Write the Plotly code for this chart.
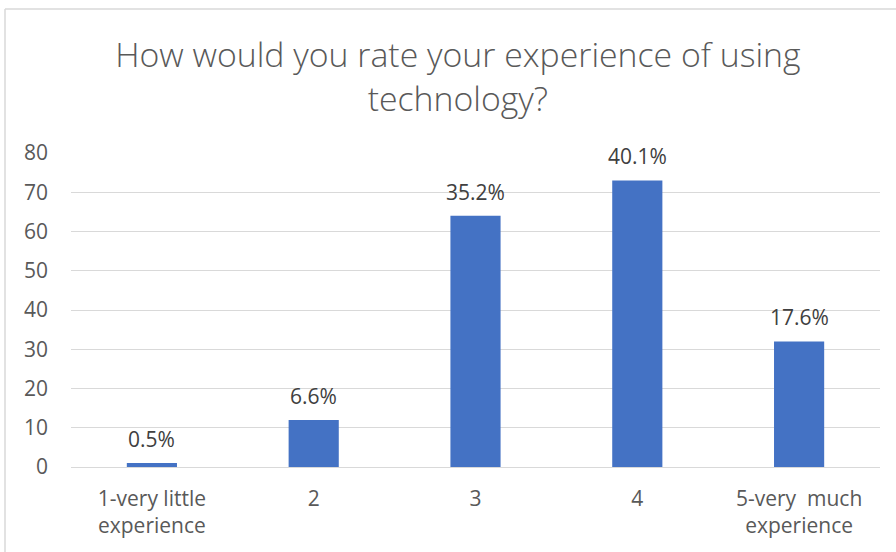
import plotly.graph_objects as go

categories = ["1-very little<br>experience", "2", "3", "4", "5-very  much<br>experience"]
counts = [1, 12, 64, 73, 32]
pct_labels = ["0.5%", "6.6%", "35.2%", "40.1%", "17.6%"]
y_ticks = [0, 10, 20, 30, 40, 50, 60, 70, 80]

W, H = 896, 552
L, R, T, B = 71, 16, 153, 85
pw, ph = W - L - R, H - T - B
FONT = "Open Sans, Lato, sans-serif"
FS = 21

fig = go.Figure(go.Bar(
    x=list(range(len(categories))), y=counts,
    marker=dict(color="#4472C4", line=dict(width=0)), width=0.31,
    hoverinfo="skip",
))

for i, (v, t) in enumerate(zip(counts, pct_labels)):
    fig.add_annotation(x=i, y=v, text=t, showarrow=False, yanchor="bottom", yshift=8,
                       font=dict(family=FONT, size=FS, color="#404040"))

def px2x(p):
    return (p - L) / pw

def py2y(p):
    return (H - B - p) / ph

# chart frame (top and left edges visible)
fig.add_shape(type="line", xref="paper", yref="paper",
              x0=px2x(5), x1=px2x(W + 5), y0=py2y(9), y1=py2y(9),
              line=dict(color="#D9D9D9", width=1.5))
fig.add_shape(type="line", xref="paper", yref="paper",
              x0=px2x(5), x1=px2x(5), y0=py2y(9), y1=py2y(H + 5),
              line=dict(color="#D9D9D9", width=1.5))

fig.update_layout(
    width=W, height=H, margin=dict(l=L, r=R, t=T, b=B, autoexpand=False),
    paper_bgcolor="white", plot_bgcolor="white",
    font=dict(family=FONT, color="#595959"),
    title=dict(text="How would you rate your experience of using<br>technology?",
               x=0.511, xanchor="center", y=0.878, yanchor="middle",
               font=dict(family=FONT, size=33.8, color="#595959", weight=300)),
    showlegend=False, bargap=0.69,
    xaxis=dict(showgrid=False, showline=False, ticks="", automargin=False,
               tickvals=list(range(len(categories))), ticktext=categories,
               range=[-0.5, len(categories) - 0.5],
               tickfont=dict(size=FS, color="#595959"), ticklabelstandoff=17),
    yaxis=dict(range=[0, 80], tickvals=y_ticks, showgrid=True, gridcolor="#D9D9D9", gridwidth=1,
               zeroline=True, zerolinecolor="#D9D9D9", zerolinewidth=1, automargin=False,
               tickfont=dict(size=FS, color="#595959"), ticks="", ticklabelstandoff=22),
)
fig.write_html("out.html", config={"displayModeBar": False},
               post_script="document.body.style.margin='0px';")
